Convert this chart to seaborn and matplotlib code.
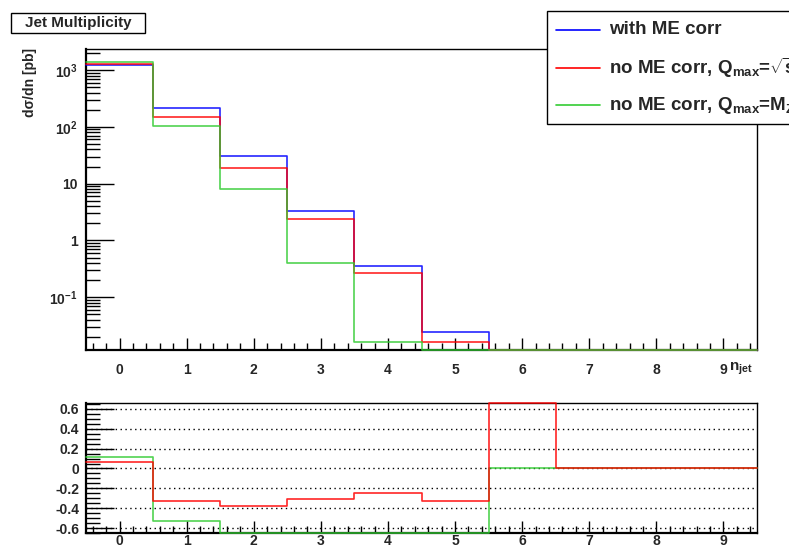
import numpy as np
import pandas as pd
import matplotlib
matplotlib.use("Agg")
import matplotlib.pyplot as plt
import seaborn as sns
from matplotlib.patches import Rectangle
from matplotlib.lines import Line2D
from matplotlib.ticker import FixedLocator, MultipleLocator, FixedFormatter, NullFormatter

# ---------------- data ----------------
n_jet = [0, 1, 2, 3, 4, 5, 6, 7, 8, 9]
with_me = [1220, 218, 31, 3.36, 0.35, 0.0245, 0, 0, 0, 0]
no_me_sqrts = [1305, 148, 19, 2.35, 0.265, 0.0165, 0, 0, 0, 0]
no_me_mz = [1370, 103, 8.1, 0.40, 0.0166, 0, 0, 0, 0, 0]

ratio_sqrts = [0.07, -0.33, -0.38, -0.31, -0.25, -0.33, 1.0, 0, 0, 0]
ratio_mz = [0.12, -0.53, -0.74, -0.88, -0.95, -1.0, 0, 0, 0, 0]

series_labels = ["with ME corr",
                 r"no ME corr, Q$_{max}$=$\sqrt{s}$",
                 r"no ME corr, Q$_{max}$=M$_{Z}$"]
series_colors = ["#0000ff", "#ff0000", "#33cc33"]
x_ticks = [0, 1, 2, 3, 4, 5, 6, 7, 8, 9]
y_top_ticks = [0.1, 1, 10, 100, 1000]
y_top_labels = ["10$^{-1}$", "1", "10", "10$^{2}$", "10$^{3}$"]
y_bot_ticks = [-0.6, -0.4, -0.2, 0, 0.2, 0.4, 0.6]
y_bot_labels = ["-0.6", "-0.4", "-0.2", "0", "0.2", "0.4", "0.6"]

# ---------------- style ----------------
sns.set_style("white")
plt.rcParams["font.family"] = ["Liberation Sans", "DejaVu Sans"]
plt.rcParams["font.weight"] = "bold"
plt.rcParams["mathtext.fontset"] = "custom"
plt.rcParams["mathtext.rm"] = "Liberation Sans:bold"
plt.rcParams["mathtext.bf"] = "Liberation Sans:bold"
plt.rcParams["mathtext.it"] = "Liberation Sans:bold"
plt.rcParams["mathtext.sf"] = "Liberation Sans:bold"
plt.rcParams["mathtext.default"] = "rm"

W, H = 789, 547
fig = plt.figure(figsize=(W / 100, H / 100), dpi=100)

def fx(px):
    return px / W

def fy(py):
    return 1 - py / H

ax1 = fig.add_axes([fx(86), fy(350), fx(757) - fx(86), fy(49) - fy(350)])
ax2 = fig.add_axes([fx(86), fy(533), fx(757) - fx(86), fy(403) - fy(533)])

edges = np.arange(len(n_jet) + 1) - 0.5
ylo1, yhi1 = 0.0118, 2350
ylo2, yhi2 = -0.65, 0.66


def step_df(vals, lo, hi):
    v = np.clip(np.asarray(vals, dtype=float), lo, hi)
    v = np.append(v, v[-1])
    return pd.DataFrame({"edge": edges, "val": v})


for vals, col in zip([with_me, no_me_sqrts, no_me_mz], series_colors):
    sns.lineplot(data=step_df(vals, ylo1, yhi1), x="edge", y="val", ax=ax1,
                 drawstyle="steps-post", color=col, lw=1.2, alpha=0.85,
                 estimator=None, sort=False, clip_on=False, zorder=3)

for vals, col in zip([ratio_mz, ratio_sqrts], [series_colors[2], series_colors[1]]):
    sns.lineplot(data=step_df(vals, ylo2, yhi2), x="edge", y="val", ax=ax2,
                 drawstyle="steps-post", color=col, lw=1.2, alpha=0.85,
                 estimator=None, sort=False, clip_on=False, zorder=3)

# ---------------- axes formatting ----------------
for ax in (ax1, ax2):
    ax.set_xlim(-0.5, 9.5)
    ax.set_xlabel("")
    ax.set_ylabel("")
    ax.xaxis.set_major_locator(FixedLocator(x_ticks))
    ax.xaxis.set_minor_locator(MultipleLocator(0.2))
    ax.set_xticklabels([str(t) for t in x_ticks])
    for side in ("left", "bottom"):
        ax.spines[side].set_color("black")
        ax.spines[side].set_linewidth(1.6)
    for side in ("top", "right"):
        ax.spines[side].set_color("black")
        ax.spines[side].set_linewidth(1.0)
    ax.tick_params(axis="both", which="both", direction="in", top=False, right=False,
                   bottom=True, left=True, color="black", width=1.0, labelsize=10)

ax1.set_yscale("log")
ax1.set_ylim(ylo1, yhi1)
ax1.yaxis.set_major_locator(FixedLocator(y_top_ticks))
ax1.yaxis.set_major_formatter(FixedFormatter(y_top_labels))
minor = [m * 10.0 ** e for e in range(-2, 4) for m in range(2, 10)]
ax1.yaxis.set_minor_locator(FixedLocator(minor))
ax1.yaxis.set_minor_formatter(NullFormatter())
ax1.tick_params(axis="y", which="major", length=20, pad=6)
ax1.tick_params(axis="y", which="minor", length=10)
ax1.tick_params(axis="x", which="major", length=9, pad=9)
ax1.tick_params(axis="x", which="minor", length=5)

ax2.set_ylim(ylo2, yhi2)
ax2.yaxis.set_major_locator(FixedLocator(y_bot_ticks))
ax2.yaxis.set_major_formatter(FixedFormatter(y_bot_labels))
ax2.yaxis.set_minor_locator(MultipleLocator(0.05))
ax2.tick_params(axis="y", which="major", length=20, pad=5)
ax2.tick_params(axis="y", which="minor", length=10)
ax2.tick_params(axis="x", which="major", length=9, pad=0.5)
ax2.tick_params(axis="x", which="minor", length=5)
ax2.yaxis.grid(True, which="major", linestyle=(0, (1, 2.5)), color="black", lw=1.0)
ax2.xaxis.grid(False)
ax2.set_axisbelow(True)

# axis titles
fig.text(fx(753), fy(369), r"n$_{jet}$", ha="right", va="center", fontsize=11,
         fontweight="bold")
fig.text(fx(30), fy(48), "d\u03c3/dn [pb]", rotation=90, ha="center", va="top",
         fontsize=10, fontweight="bold")

# title box
fig.patches.append(Rectangle((fx(11), fy(33)), fx(145) - fx(11), fy(13) - fy(33),
                             transform=fig.transFigure, facecolor="white",
                             edgecolor="black", lw=1.0, zorder=5))
fig.text(fx(78), fy(23), "Jet Multiplicity", ha="center", va="center",
         fontsize=11, fontweight="bold", zorder=6)

# legend box
fig.patches.append(Rectangle((fx(547), fy(124)), fx(820) - fx(547), fy(11) - fy(124),
                             transform=fig.transFigure, facecolor="white",
                             edgecolor="black", lw=1.0, zorder=5, clip_on=False))
for i, (lab, col) in enumerate(zip(series_labels, series_colors)):
    yy = [30, 67.5, 105][i]
    fig.lines.append(Line2D([fx(556), fx(600)], [fy(yy), fy(yy)], color=col, lw=1.2,
                            transform=fig.transFigure, zorder=6))
    fig.text(fx(609), fy(yy), lab, ha="left", va="center", fontsize=13.5,
             fontweight="bold", zorder=6)

fig.savefig("out.png", dpi=100)
